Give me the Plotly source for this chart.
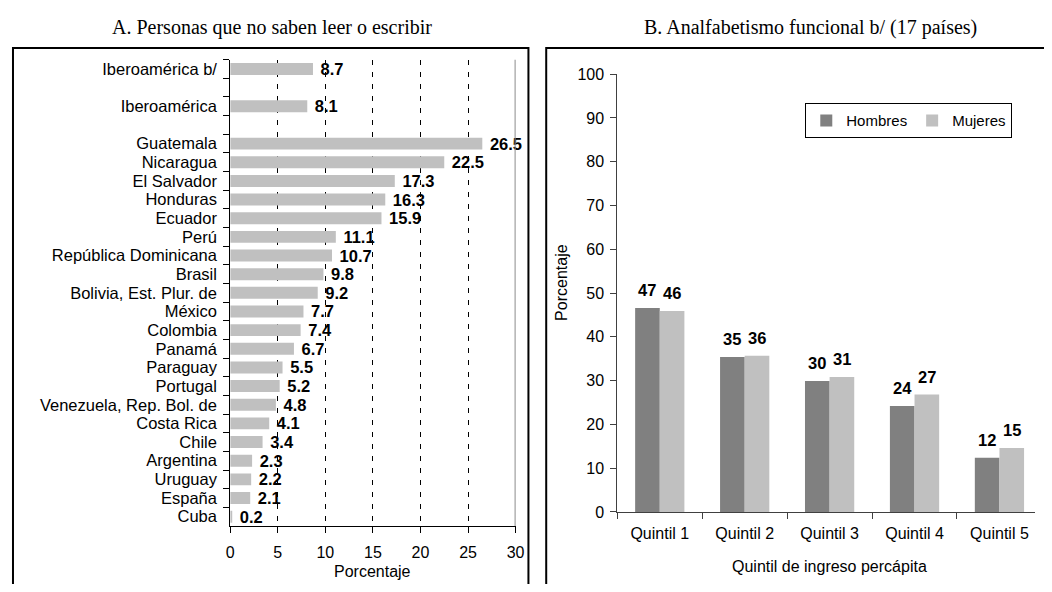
import plotly.graph_objects as go

# The page adds an 8px body margin; the figure is sized so the page is 1052x592.
PAGE_W, PAGE_H, PAD = 1052, 592, 8
W, H = PAGE_W - 2 * PAD, PAGE_H - 2 * PAD

# ---------- Data ----------
countries = ["Iberoamérica b/", " ", "Iberoamérica", "  ", "Guatemala", "Nicaragua",
             "El Salvador", "Honduras", "Ecuador", "Perú", "República Dominicana",
             "Brasil", "Bolivia, Est. Plur. de", "México", "Colombia", "Panamá",
             "Paraguay", "Portugal", "Venezuela, Rep. Bol. de", "Costa Rica", "Chile",
             "Argentina", "Uruguay", "España", "Cuba"]
illiteracy = [8.7, None, 8.1, None, 26.5, 22.5, 17.3, 16.3, 15.9, 11.1, 10.7, 9.8, 9.2,
              7.7, 7.4, 6.7, 5.5, 5.2, 4.8, 4.1, 3.4, 2.3, 2.2, 2.1, 0.2]
x_ticks_a = [0, 5, 10, 15, 20, 25, 30]

quintiles = ["Quintil 1", "Quintil 2", "Quintil 3", "Quintil 4", "Quintil 5"]
hombres = [46.6, 35.4, 29.9, 24.2, 12.4]
mujeres = [45.9, 35.7, 30.8, 26.8, 14.6]

SANS = "Liberation Sans, Arial, sans-serif"
SERIF = "Liberation Serif, Times New Roman, serif"
FS = 16


def px_x(v):
    return (v - PAD) / W


def px_y(v):
    return 1 - (v - PAD) / H


fig = go.Figure()

# Panel A bars
fig.add_trace(go.Bar(
    y=countries, x=illiteracy, orientation="h",
    marker=dict(color="#C0C0C0", line=dict(width=0)),
    text=["" if v is None else f" {v:.1f}" for v in illiteracy],
    textposition="outside", cliponaxis=False, constraintext="none",
    textfont=dict(family=SANS, size=16.5, color="black", weight="bold"),
    xaxis="x", yaxis="y", showlegend=False, hoverinfo="skip",
))

# Panel B bars
fig.add_trace(go.Bar(
    x=quintiles, y=hombres, name="Hombres",
    marker=dict(color="#808080", line=dict(width=0)),
    xaxis="x2", yaxis="y2", width=0.29, offset=-0.29,
))
fig.add_trace(go.Bar(
    x=quintiles, y=mujeres, name="Mujeres",
    marker=dict(color="#C0C0C0", line=dict(width=0)),
    xaxis="x2", yaxis="y2", width=0.29, offset=0.0,
))

annotations = []
for i, q in enumerate(quintiles):
    annotations.append(dict(x=q, y=hombres[i], xref="x2", yref="y2", xshift=-12.5, yshift=18,
                            xanchor="center", yanchor="middle",
                            text=f"<b>{hombres[i]:.0f}</b>", showarrow=False,
                            font=dict(family=SANS, size=16.5, color="black")))
    annotations.append(dict(x=q, y=mujeres[i], xref="x2", yref="y2", xshift=12.5, yshift=18,
                            xanchor="center", yanchor="middle",
                            text=f"<b>{mujeres[i]:.0f}</b>", showarrow=False,
                            font=dict(family=SANS, size=16.5, color="black")))


def label(x, y, text, family=SANS, size=FS, angle=0):
    return dict(x=px_x(x), y=px_y(y), xref="paper", yref="paper", showarrow=False,
                xanchor="center", yanchor="middle", textangle=angle, text=text,
                font=dict(family=family, size=size, color="black"))


annotations += [
    label(271, 20, "A. Personas que no saben leer o escribir", SERIF, 20),
    label(817, 20, "B. Analfabetismo funcional b/ (17 países)", SERIF, 20),
    label(373.5, 580, "Porcentaje"),
    label(836, 575, "Quintil de ingreso percápita"),
    label(565, 283, "Porcentaje", angle=-90),
]


# Panel frames (open at the edges where the reference frame runs off the picture)
def frame(x0, y0, x1, y1, right_open=False):
    X0, X1 = px_x(x0), px_x(x1)
    Y0, Y1 = px_y(y0), px_y(y1)
    if right_open:
        path = f"M {X0},{Y1} L {X0},{Y0} L {X1},{Y0}"
    else:
        path = f"M {X0},{Y1} L {X0},{Y0} L {X1},{Y0} L {X1},{Y1}"
    return dict(type="path", xref="paper", yref="paper", path=path,
                line=dict(color="black", width=2))


shapes = [
    frame(9, 41, 531, 600),
    frame(549, 41, 1060, 600, right_open=True),
    # right edge of plot area A
    dict(type="line", xref="x", yref="y domain", x0=x_ticks_a[-1], x1=x_ticks_a[-1], y0=0, y1=1,
         line=dict(color="#8C8C8C", width=2)),
]

# Panel B: each category is 86 px wide starting at page x=621; the axis runs to the figure edge
B_LEFT, B_RIGHT, CAT_PX = 621, PAGE_W - PAD, 86
b_range = [-0.5, -0.5 + (B_RIGHT - B_LEFT) / CAT_PX]

fig.update_layout(
    width=W, height=H,
    margin=dict(l=0, r=0, t=0, b=0),
    paper_bgcolor="white", plot_bgcolor="white",
    font=dict(family=SANS, size=FS, color="black"),
    barmode="group",
    bargap=0.36,
    xaxis=dict(domain=[px_x(229), px_x(518)], anchor="y", range=[0, 30],
               tickvals=x_ticks_a, ticks="outside", ticklen=6, tickcolor="black",
               showline=True, linecolor="black", linewidth=1,
               showgrid=True, gridcolor="black", gridwidth=1, griddash="5px,7px",
               zeroline=False, tickfont=dict(size=FS), ticklabelstandoff=6,
               fixedrange=True),
    yaxis=dict(domain=[px_y(533.5), px_y(53)], anchor="x", type="category",
               categoryorder="array", categoryarray=countries, autorange="reversed",
               tickmode="linear", tick0=0, dtick=1,
               tickson="boundaries", ticks="outside", ticklen=6, tickcolor="black",
               showline=True, linecolor="black", linewidth=1, showgrid=False,
               ticklabelstandoff=9, tickfont=dict(size=16.5), fixedrange=True),
    xaxis2=dict(domain=[px_x(B_LEFT), 1.0], anchor="y2", type="category", range=b_range,
                tickson="boundaries", ticks="outside", ticklen=6, tickcolor="#404040",
                showline=True, linecolor="#404040", linewidth=1, showgrid=False,
                tickfont=dict(size=FS), ticklabelstandoff=7, fixedrange=True),
    yaxis2=dict(domain=[px_y(519), px_y(68)], anchor="x2", range=[0, 100], dtick=10,
                ticks="outside", ticklen=6, tickcolor="#404040",
                showline=True, linecolor="#404040", linewidth=1, showgrid=False,
                zeroline=False, tickfont=dict(size=FS), ticklabelstandoff=3,
                fixedrange=True),
    legend=dict(orientation="h", x=px_x(1021), y=px_y(98), xanchor="right", yanchor="top",
                bordercolor="black", borderwidth=1, bgcolor="white",
                font=dict(family=SANS, size=15), itemwidth=30, tracegroupgap=0),
    annotations=annotations,
    shapes=shapes,
)

fig.write_html("out.html", config={"displayModeBar": False})
